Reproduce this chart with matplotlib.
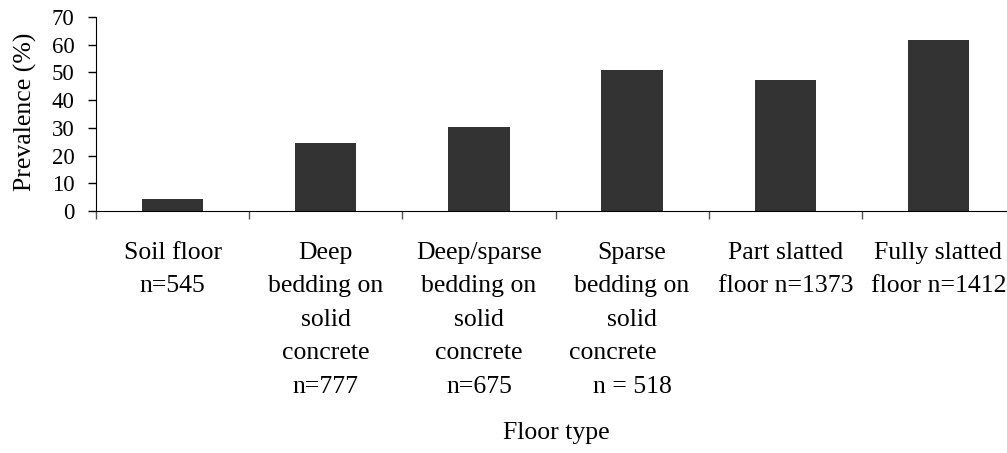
import numpy as np
import matplotlib
matplotlib.use("Agg")
import matplotlib.pyplot as plt

plt.rcParams['font.family'] = ['Liberation Serif', 'DejaVu Serif']

# data
floor_labels = [
    "Soil floor\nn=545",
    "Deep\nbedding on\nsolid\nconcrete\nn=777",
    "Deep/sparse\nbedding on\nsolid\nconcrete\nn=675",
    "Sparse\nbedding on\nsolid\nconcrete      \nn = 518",
    "Part slatted\nfloor n=1373",
    "Fully slatted\nfloor n=1412",
]
prevalence = [4.3, 24.6, 30.4, 50.7, 47.1, 61.6]


def main():
    W, H = 1007, 453
    fig = plt.figure(figsize=(W / 100, H / 100), dpi=100)
    ax = fig.add_axes([96 / W, (H - 211) / H, (1015 - 96) / W, (211 - 17) / H])

    x = np.arange(len(prevalence))
    ax.bar(x, prevalence, width=0.4, color="#333333", zorder=2)

    ax.set_xlim(-0.5, len(prevalence) - 0.5)
    ax.set_ylim(0, 70)
    ax.set_yticks(np.arange(0, 71, 10))

    # tick marks sit on the category boundaries
    ax.set_xticks(np.arange(-0.5, len(prevalence)), labels=[""] * (len(prevalence) + 1))
    ax.tick_params(axis="x", length=6, width=1, color="#555555", direction="out")
    ax.tick_params(axis="y", length=5.5, width=1, labelsize=16.5, pad=10)

    trans = ax.get_xaxis_transform()
    for xi, lab in zip(x, floor_labels):
        ax.text(xi, -0.16, lab, transform=trans, ha="center", va="top",
                fontsize=18.5, linespacing=1.67, multialignment="center")

    for s in ["top", "right"]:
        ax.spines[s].set_visible(False)

    fig.text(25 / W, 1 - 112 / H, "Prevalence (%)", rotation=90,
             ha="center", va="center", fontsize=18.5)
    fig.text(556 / W, 1 - 433 / H, "Floor type", ha="center", va="center",
             fontsize=18.5)

    fig.savefig("out.png", dpi=100)


if __name__ == "__main__":
    main()
